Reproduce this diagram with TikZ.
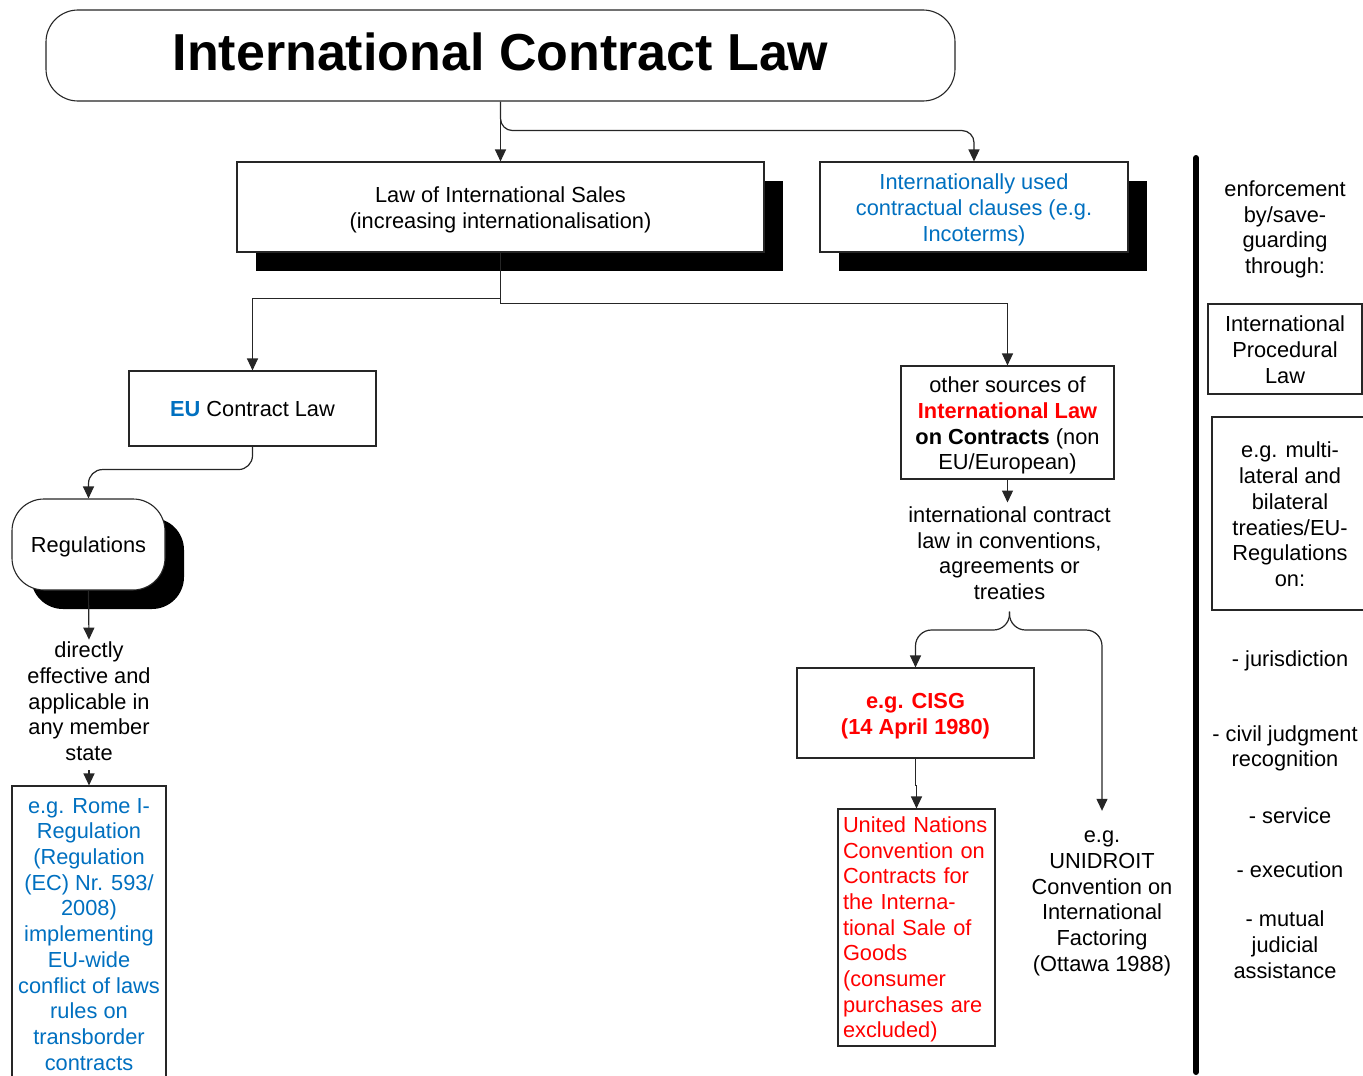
\documentclass[tikz,border=0pt]{standalone}
\usepackage{fontspec}
\setmainfont{Liberation Sans}
\usetikzlibrary{arrows.meta,shadows}
\definecolor{linkblue}{RGB}{0,112,192}
\definecolor{hotred}{RGB}{255,0,0}
% extra head room on the first line of a framed label
\newcommand{\lift}[1][25pt]{\rule{0pt}{#1}}
\tikzset{
  txt/.style={font=\fontsize{21.8}{25.7}\selectfont, align=center, inner sep=0pt,
    execute at begin node=\strut, execute at end node=\strut},
  frame/.style={txt, draw=black!85, fill=white, line width=1.1pt,
    execute at begin node={\rule{0pt}{23pt}}},
  blackshadow/.style={drop shadow={shadow xshift=19pt, shadow yshift=-19pt, fill=black, opacity=1}},
  link/.style={draw=black!85, line width=1.2pt, -{Triangle[length=12pt,width=11pt]}},
}
\begin{document}
\begin{tikzpicture}[x=1pt,y=-1pt]
\useasboundingbox (0,0) rectangle (1363,1076);
\clip (0,0) rectangle (1363,1076);

% title
\node[frame, rounded corners=32pt, minimum width=909pt, minimum height=91pt,
  font=\fontsize{52}{60}\bfseries\selectfont, execute at begin node={}, execute at end node={}]
  (title) at (500.5,55.5) {\raisebox{-3pt}{International Contract Law}};

% second level
\node[frame, blackshadow, minimum width=527pt, minimum height=90pt]
  (sales) at (500.5,207) {\lift Law of International Sales\\(increasing internationalisation)};
\node[frame, blackshadow, minimum width=308pt, minimum height=90pt, text=linkblue]
  (clauses) at (974,207) {\lift Internationally used\\contractual clauses (e.g.\\Incoterms)};

% EU branch
\node[frame, minimum width=247pt, minimum height=75pt]
  (eu) at (252.5,408.5) {\textbf{\textcolor{linkblue}{EU}} Contract Law};
\node[frame, blackshadow, rounded corners=32pt, minimum width=153pt, minimum height=91pt]
  (reg) at (88.5,544.5) {Regulations};
\node[txt, inner ysep=2pt] (direct) at (89,705)
  {directly\\effective and\\applicable in\\any member\\state};
\node[frame, text=linkblue, minimum width=154pt, minimum height=297pt]
  (rome) at (89,934.5)
  {\lift[22pt]e.g. Rome I-\\Regulation\\(Regulation\\(EC) Nr. 593/\\2008)\\implementing\\EU-wide\\conflict of laws\\rules on\\transborder\\contracts};

% other sources branch
\node[frame, minimum width=213pt, minimum height=113pt]
  (other) at (1007.5,422.5)
  {\lift other sources of\\\textcolor{hotred}{\bfseries International Law}\\\textbf{on Contracts} (non\\EU/European)};
\node[txt, inner ysep=4pt] (conv) at (1009.5,557)
  {international contract\\law in conventions,\\agreements or\\treaties};
\coordinate (fork) at (1009.5,630);
\node[frame, minimum width=237pt, minimum height=90pt, text=hotred,
  font=\fontsize{21.8}{25.7}\bfseries\selectfont]
  (cisg) at (915.5,713) {\lift e.g. CISG\\(14 April 1980)};
\node[frame, text=hotred, align=left, text width=147pt, inner xsep=5pt, minimum height=237pt,
  execute at begin node={\rule{0pt}{20pt}}]
  (un) at (916.5,927.5)
  {United Nations\\Convention on\\Contracts for\\the Interna-\\tional Sale of\\Goods\\(consumer\\purchases are\\excluded)};
\node[txt, inner ysep=20pt] (unid) at (1102,905)
  {e.g.\\UNIDROIT\\Convention on\\International\\Factoring\\(Ottawa 1988)};

% divider and enforcement column
\coordinate (divtop) at (1196,158);
\coordinate (divbot) at (1196,1072);
\draw[line width=6pt, line cap=round] (divtop) -- (divbot);

\node[txt] (enf) at (1285,231) {enforcement\\by/save-\\guarding\\through:};
\node[frame, minimum width=154pt, minimum height=90pt]
  (ipl) at (1285,349) {\lift International\\Procedural\\Law};
\node[frame, minimum width=156pt, minimum height=193pt]
  (multi) at (1290,513.5) {\lift e.g. multi-\\lateral and\\bilateral\\treaties/EU-\\Regulations\\on:};
\node[txt] (juris) at (1290,661) {- jurisdiction};
\node[txt] (civil) at (1285,750) {- civil judgment\\recognition};
\node[txt] (serv) at (1290,818) {- service};
\node[txt] (exec) at (1290,872) {- execution};
\node[txt] (mutual) at (1285,948.5) {- mutual\\judicial\\assistance};

% connectors
\draw[link] (title.south) -- (sales.north);
\draw[link, rounded corners=12pt] (title.south) -- ++(0,29) -| (clauses.north);
\draw[link] (sales.south) -- ++(0,46) -| (eu.north);
\draw[link] (sales.south) -- ++(0,51) -| (other.north);
\draw[link, rounded corners=14pt] (eu.south) -- ++(0,23) -| (reg.north);
\draw[link] (reg.south) -- (direct.north);
\draw[link] (direct.south) -- (rome.north);
\draw[link] (other.south) -- (other.south |- conv.north);
\draw[link, rounded corners=16pt] (conv.south) -- (fork) -| (cisg.north);
\draw[link, rounded corners=16pt] (conv.south) -- (fork) -| (unid.north);
\draw[link] (cisg.south) -- ++(0,27) -| (un.north);
\end{tikzpicture}
\end{document}
